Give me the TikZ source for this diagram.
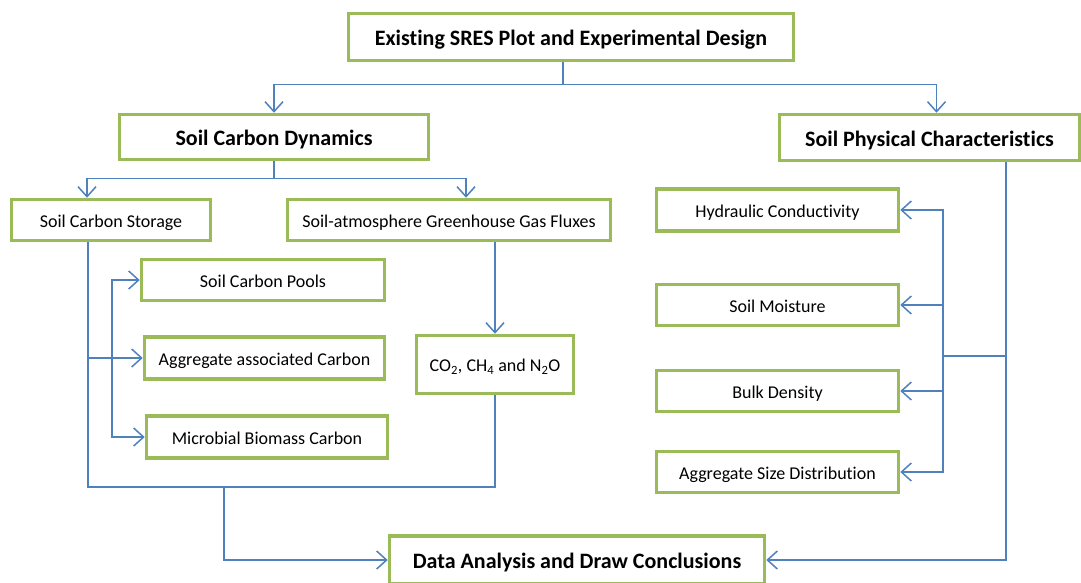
\documentclass[tikz,border=0pt]{standalone}
\usepackage{fontspec}
\setmainfont{Carlito}[Ligatures=NoCommon]
\usetikzlibrary{arrows.meta}
\definecolor{boxgreen}{HTML}{9BBB59}
\definecolor{lineblue}{HTML}{4F81BD}
\tikzset{
  box/.style={draw=boxgreen, line width=3.5pt, fill=white, inner sep=0pt, align=center, font=\fontsize{18}{21}\selectfont, text height=15pt, text depth=1pt},
  bigbox/.style={box, font=\bfseries\fontsize{22}{26}\selectfont, text height=18pt, text depth=1pt},
  conn/.style={draw=lineblue, line width=1.5pt},
  tip/.tip={Straight Barb[length=10pt,width=18pt,line width=1.5pt]},
  arr/.style={conn, -tip},
  biarr/.style={conn, tip-tip}
}
\begin{document}
\begin{tikzpicture}[x=1pt,y=-1pt]
\useasboundingbox (0,0) rectangle (1081,582);
% boxes
\node[bigbox, minimum width=445pt, minimum height=47pt] (top) at (571,37) {Existing SRES Plot and Experimental Design};
\node[bigbox, minimum width=309pt, minimum height=45pt] (SCD) at (274,137) {Soil Carbon Dynamics};
\node[bigbox, minimum width=300pt, minimum height=46pt] (SPC) at (929.5,137.5) {Soil Physical Characteristics};
\node[box, minimum width=199pt, minimum height=41pt] (SCS) at (111,220) {Soil Carbon Storage};
\node[box, minimum width=323pt, minimum height=41pt] (GHG) at (449,220) {Soil-atmosphere Greenhouse Gas Fluxes};
\node[box, minimum width=243pt, minimum height=41pt] (SCP) at (263,280) {Soil Carbon Pools};
\node[box, minimum width=240pt, minimum height=42pt] (AAC) at (264.5,358) {Aggregate associated Carbon};
\node[box, minimum width=241pt, minimum height=42pt] (MBC) at (267,437) {Microbial Biomass Carbon};
\node[box, minimum width=157pt, minimum height=58pt] (CO2) at (495,364.5) {CO\textsubscript{2}, CH\textsubscript{4} and N\textsubscript{2}O};
\node[box, minimum width=242pt, minimum height=42pt] (HC) at (777.5,210) {Hydraulic Conductivity};
\node[box, minimum width=242pt, minimum height=41pt] (SM) at (777.5,305) {Soil Moisture};
\node[box, minimum width=242pt, minimum height=41pt] (BD) at (777.5,391) {Bulk Density};
\node[box, minimum width=242pt, minimum height=41pt] (ASD) at (777.5,472) {Aggregate Size Distribution};
\node[bigbox, minimum width=375pt, minimum height=48pt] (DA) at (577,560) {Data Analysis and Draw Conclusions};
% top level connectors
\draw[conn] ([xshift=-8pt]top.south) -- ++(0,22) coordinate (j1);
\draw[arr] (j1) -| (SCD.north);
\draw[arr] (j1) -| ([xshift=7pt]SPC.north);
% carbon dynamics connectors
\draw[conn] (SCD.south) -- ++(0,17) coordinate (j2);
\draw[arr] (j2) -| ([xshift=-24pt]SCS.north);
\draw[arr] (j2) -| ([xshift=17pt]GHG.north);
% storage branch
\coordinate (scsout) at ([xshift=-23pt]SCS.south);
\coordinate (low) at (224,487);
\coordinate (v2) at (112,0);
\draw[conn] (scsout) |- (low) -| (CO2.south);
\draw[arr] (scsout |- AAC.west) -- (AAC.west);
\draw[biarr] (SCP.west) -| (v2 |- MBC.west) -- (MBC.west);
\draw[arr] (low) |- (DA.west);
% fluxes
\draw[arr] (CO2.north |- GHG.south) -- (CO2.north);
% physical characteristics
\coordinate (rv) at ([xshift=76.5pt]SPC.south);
\coordinate (rb) at (943,356);
\draw[arr] (rv) |- (DA.east);
\draw[conn] (rv |- rb) -- (rb);
\draw[biarr] (HC.east) -| (rb |- ASD.east) -- (ASD.east);
\draw[arr] (rb |- SM.east) -- (SM.east);
\draw[arr] (rb |- BD.east) -- (BD.east);
\end{tikzpicture}
\end{document}
